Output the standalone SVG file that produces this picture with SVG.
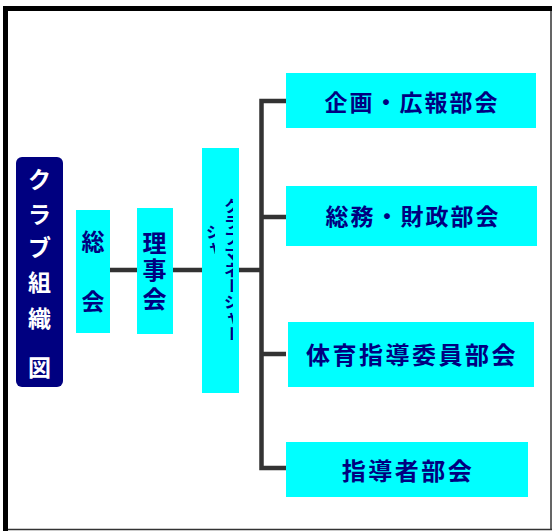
<svg xmlns="http://www.w3.org/2000/svg" width="552" height="531" viewBox="0 0 552 531">
<style>
.box{fill:#00FFFF}
.t{font-family:"Noto Sans CJK JP","Noto Sans CJK SC",sans-serif;font-weight:bold;fill:#000080;dominant-baseline:central;text-anchor:middle}
.w{fill:#FFFFFF}
.v{writing-mode:vertical-rl;text-anchor:start;dominant-baseline:auto}
.con{fill:none;stroke:#333333;stroke-width:4.5;stroke-linejoin:miter}
</style>
<defs>
<clipPath id="clipR"><rect x="224" y="190" width="9" height="150"/></clipPath>
<clipPath id="clipL"><rect x="206" y="190" width="9" height="150"/></clipPath>
</defs>
<rect x="0" y="0" width="552" height="531" fill="#FFFFFF"/>
<g id="frame">
<path d="M551 10 V530 M5 529.5 H552" fill="none" stroke="#333333" stroke-width="1.5"/>
<path d="M5.5 531 V8.5 H552" fill="none" stroke="#000000" stroke-width="5"/>
</g>
<g id="connectors">
<path class="con" d="M110 270 H137 M173 270 H202 M239 270 H262"/>
<path class="con" d="M286 101 H261.5 V468 H286 M261.5 217 H286 M261.5 354 H286"/>
</g>
<g id="title">
<rect x="16" y="157" width="47" height="230" rx="6" fill="#000080"/>
<text class="t w" font-size="23" font-weight="normal"><tspan x="39.5" y="178">ク</tspan><tspan x="39.5" y="213">ラ</tspan><tspan x="39.5" y="246">ブ</tspan><tspan x="39.5" y="281">組</tspan><tspan x="39.5" y="317">織</tspan><tspan x="39.5" y="366">図</tspan></text>
</g>
<g id="soukai">
<rect class="box" x="76" y="210" width="34" height="123"/>
<text class="t" font-size="23"><tspan x="93" y="240">総</tspan><tspan x="93" y="300">会</tspan></text>
</g>
<g id="rijikai">
<rect class="box" x="137" y="208" width="36" height="126"/>
<text class="t" font-size="24"><tspan x="154.5" y="241">理</tspan><tspan x="154.5" y="268">事</tspan><tspan x="154.5" y="297">会</tspan></text>
</g>
<g id="manager">
<rect class="box" x="202" y="148" width="37" height="245"/>
<g clip-path="url(#clipR)">
<text class="t v" font-size="16" x="232" y="198">クラブマネージャー</text>
</g>
<g clip-path="url(#clipL)">
<text class="t v" font-size="16" x="214" y="224">ジャ</text>
</g>
</g>
<g id="kikaku">
<rect class="box" x="286" y="73" width="250" height="55"/>
<text class="t" font-size="23" letter-spacing="2" x="412" y="101">企画・広報部会</text>
</g>
<g id="soumu">
<rect class="box" x="286" y="186" width="251" height="60"/>
<text class="t" font-size="23" letter-spacing="2" x="413" y="215">総務・財政部会</text>
</g>
<g id="taiiku">
<rect class="box" x="288" y="322" width="246" height="65"/>
<text class="t" font-size="24" letter-spacing="2.5" x="412" y="353">体育指導委員部会</text>
</g>
<g id="shidousha">
<rect class="box" x="286" y="442" width="242" height="55"/>
<text class="t" font-size="24" letter-spacing="2.5" x="408" y="469">指導者部会</text>
</g>
</svg>
